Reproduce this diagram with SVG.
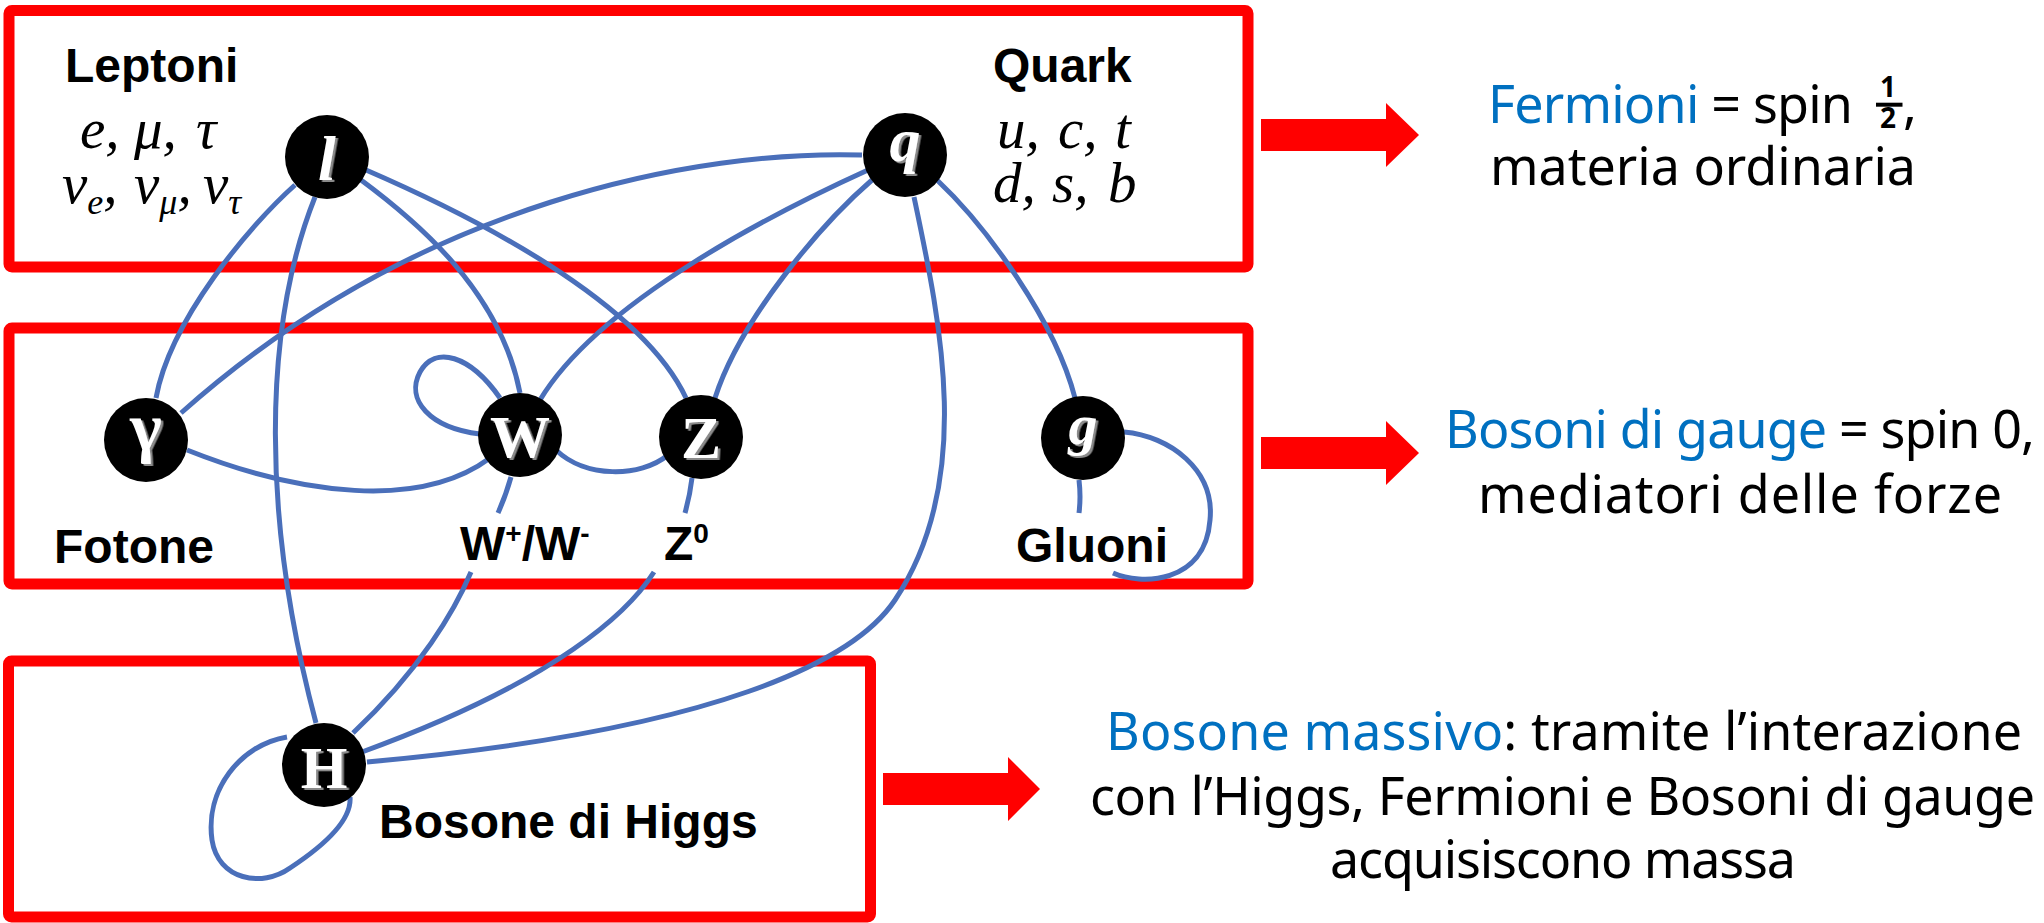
<svg xmlns="http://www.w3.org/2000/svg" width="2044" height="923" viewBox="0 0 2044 923">
<defs>
<style>
.panel{fill:none;stroke:#FF0000;stroke-width:11;}
.edge{fill:none;stroke:#4A6FBA;stroke-width:5;}
.dot{fill:#000;}
.sym{font-family:"Liberation Serif",serif;font-weight:bold;text-anchor:middle;fill:#fff;filter:url(#shadow);}
.it{font-style:italic;}
.lbl{font-family:"Liberation Sans",Arial,sans-serif;font-weight:bold;font-size:48px;fill:#000;}
.math{font-family:"Liberation Serif",serif;font-style:italic;font-size:57px;fill:#000;}
.note{font-family:"Noto Sans",sans-serif;font-size:52px;fill:#000;}
.frac{font-family:"Noto Sans",sans-serif;font-size:28px;font-weight:bold;fill:#000;text-anchor:middle;}
.hl{fill:#0070C0;}
.arrow{fill:#FF0000;}
</style>
<filter id="shadow" x="-20%" y="-20%" width="140%" height="140%">
<feDropShadow dx="2.5" dy="2" stdDeviation="0.3" flood-color="#8a8a8a" flood-opacity="1"/>
</filter>
</defs>
<rect width="2044" height="923" fill="#fff"/>

<g id="panels">
<rect class="panel" x="9" y="10.5" width="1239" height="256.5" rx="3"/>
<rect class="panel" x="9" y="328" width="1239" height="256" rx="3"/>
<rect class="panel" x="8.5" y="661" width="862" height="256" rx="3"/>
</g>

<g id="connectors">
<path id="e-l-gamma" class="edge" d="M295,185 C250,225 170,320 156,398"/>
<path id="e-l-H" class="edge" d="M315,197 C262,330 262,520 316,723"/>
<path id="e-l-W" class="edge" d="M361,180 C415,220 500,290 520,393"/>
<path id="e-l-Z" class="edge" d="M366,170 C470,215 640,300 686,398"/>
<path id="e-q-gamma" class="edge" d="M862,155 C700,150 420,200 181,413"/>
<path id="e-q-W" class="edge" d="M868,170 C780,210 600,300 540,400"/>
<path id="e-q-Z" class="edge" d="M872,180 C820,225 740,320 715,398"/>
<path id="e-q-g" class="edge" d="M937,180 C985,225 1055,320 1075,398"/>
<path id="e-q-H" class="edge" d="M914,197 C940,320 975,480 895,600 C855,660 720,730 367,762"/>
<path id="e-gamma-W" class="edge" d="M187,450 C300,495 420,510 490,458"/>
<path id="e-W-Z" class="edge" d="M556,450 C585,478 640,478 668,455"/>
<path id="e-W-W" class="edge" d="M500,398 C470,355 435,345 420,372 C405,400 430,428 480,434"/>
<path id="e-W-H" class="edge" d="M511,477 Q506,495 498,513 M471,572 C455,610 420,670 353,733"/>
<path id="e-Z-H" class="edge" d="M692,478 Q690,495 685,513 M654,572 C630,610 560,680 362,752"/>
<path id="e-g-g" class="edge" d="M1079,480 Q1081,497 1079,513 M1113,573 C1140,585 1205,585 1210,520 C1215,470 1170,436 1124,432"/>
<path id="e-H-H" class="edge" d="M287,737 C240,745 205,790 212,840 C218,880 262,888 290,868 C325,845 352,820 350,797"/>
</g>

<g id="node-l">
<circle class="dot" cx="327" cy="157" r="42"/>
<text class="sym it" x="327" y="180" font-size="64">l</text>
</g>
<g id="node-q">
<circle class="dot" cx="905" cy="155" r="42"/>
<text class="sym it" x="905" y="161" font-size="62">q</text>
</g>
<g id="node-gamma">
<circle class="dot" cx="146" cy="440" r="42"/>
<text class="sym" x="146" y="450" font-size="68">γ</text>
</g>
<g id="node-W">
<circle class="dot" cx="520" cy="435" r="42"/>
<text class="sym" x="520" y="457" font-size="60">W</text>
</g>
<g id="node-Z">
<circle class="dot" cx="701" cy="437" r="42"/>
<text class="sym" x="701" y="458" font-size="60">Z</text>
</g>
<g id="node-g">
<circle class="dot" cx="1083" cy="438" r="42"/>
<text class="sym it" x="1083" y="444" font-size="58">g</text>
</g>
<g id="node-H">
<circle class="dot" cx="324" cy="765" r="42"/>
<text class="sym" x="324" y="788" font-size="60">H</text>
</g>

<g id="labels">
<text class="lbl" x="65" y="82">Leptoni</text>
<text class="lbl" x="993" y="82">Quark</text>
<text class="lbl" x="54" y="563">Fotone</text>
<text class="lbl" x="460" y="560">W<tspan font-size="28" dy="-17">+</tspan><tspan dy="17">/W</tspan><tspan font-size="28" dy="-17">-</tspan></text>
<text class="lbl" x="664" y="560">Z<tspan font-size="28" dy="-17">0</tspan></text>
<text class="lbl" x="1016" y="562">Gluoni</text>
<text class="lbl" x="379" y="838">Bosone di Higgs</text>
<text class="math"><tspan x="80" y="148">e,</tspan><tspan x="134" y="148">μ,</tspan><tspan x="196" y="148">τ</tspan><tspan x="62" y="203">ν</tspan><tspan font-size="36" dy="11">e</tspan><tspan dy="-11">,</tspan><tspan x="134" y="203">ν</tspan><tspan font-size="36" dy="11">μ</tspan><tspan dy="-11">,</tspan><tspan x="203" y="203">ν</tspan><tspan font-size="36" dy="11">τ</tspan></text>
<text class="math"><tspan x="997" y="148">u,</tspan><tspan x="1058" y="148">c,</tspan><tspan x="1115" y="148">t</tspan><tspan x="993" y="202">d,</tspan><tspan x="1052" y="202">s,</tspan><tspan x="1108" y="202">b</tspan></text>
</g>

<g id="arrows">
<polygon class="arrow" points="1261,119 1386,119 1386,103 1419,135 1386,167 1386,151 1261,151"/>
<polygon class="arrow" points="1261,437 1386,437 1386,421 1419,453 1386,485 1386,469 1261,469"/>
<polygon class="arrow" points="883,773 1008,773 1008,757 1040,789 1008,821 1008,805 883,805"/>
</g>

<g id="notes">
<text class="note"><tspan x="1488" y="123" textLength="365"><tspan class="hl">Fermioni</tspan> = spin</tspan><tspan x="1490" y="185" textLength="426">materia ordinaria</tspan></text>
<text class="frac"><tspan x="1888" y="97">1</tspan><tspan x="1888" y="128">2</tspan><tspan x="1910" y="123" font-size="52" font-weight="normal">,</tspan></text>
<line x1="1876" y1="104.7" x2="1902.5" y2="104.7" stroke="#000" stroke-width="4"/>
<text class="note"><tspan x="1445" y="448" textLength="590"><tspan class="hl">Bosoni di gauge</tspan> = spin 0,</tspan><tspan x="1478" y="513" textLength="524">mediatori delle forze</tspan></text>
<text class="note"><tspan x="1106" y="750" textLength="916"><tspan class="hl">Bosone massivo</tspan>: tramite l’interazione</tspan><tspan x="1090" y="815" textLength="945">con l’Higgs, Fermioni e Bosoni di gauge</tspan><tspan x="1330" y="878" textLength="466">acquisiscono massa</tspan></text>
</g>
</svg>
